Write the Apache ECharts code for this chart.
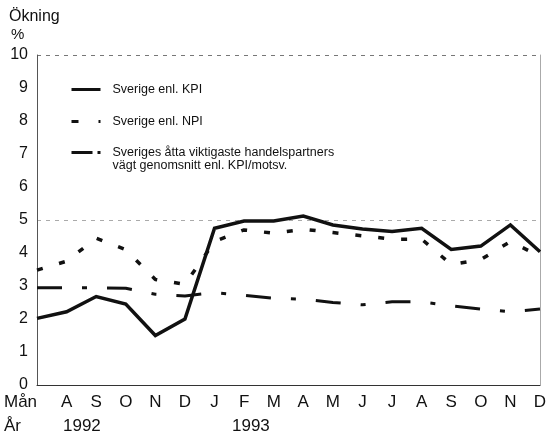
<!DOCTYPE html>
<html><head><meta charset="utf-8">
<script src="https://cdn.jsdelivr.net/npm/echarts@6/dist/echarts.min.js"></script>
<style>html,body{margin:0;padding:0;background:#fff}#c{width:548px;height:438px}</style>
</head><body><div id="c"></div>
<script>
// Months Jul 1992 .. Dec 1993 (first month unlabeled, at the y axis)
const months = ['', 'A', 'S', 'O', 'N', 'D', 'J', 'F', 'M', 'A', 'M', 'J', 'J', 'A', 'S', 'O', 'N', 'D'];
const kpi = [2.02, 2.22, 2.68, 2.45, 1.5, 2.0, 4.75, 4.97, 4.97, 5.12, 4.85, 4.73, 4.65, 4.75, 4.11, 4.21, 4.85, 4.04];
const npi = [3.48, 3.75, 4.45, 4.1, 3.2, 3.05, 4.35, 4.7, 4.6, 4.72, 4.62, 4.52, 4.42, 4.42, 3.65, 3.8, 4.35, 3.9];
const partners = [2.95, 2.95, 2.95, 2.93, 2.75, 2.7, 2.8, 2.72, 2.63, 2.6, 2.5, 2.43, 2.52, 2.52, 2.4, 2.3, 2.22, 2.3];
const yTickLabels = ['0', '1', '2', '3', '4', '5', '6', '7', '8', '9', '10'];
const names = ['Sverige enl. KPI', 'Sverige enl. NPI', 'Sveriges åtta viktigaste handelspartners\nvägt genomsnitt enl. KPI/motsv.'];
const yearLabels = ['1992', '1993'];

const FONT = '"Liberation Sans", Arial, Helvetica, sans-serif';
const INK = '#111';
const chart = echarts.init(document.getElementById('c'), null, {renderer: 'canvas'});

const legendText = {fontSize: 12.5, lineHeight: 13, color: INK, fontFamily: FONT, padding: [0, 0, 0, 7]};
chart.setOption({
  backgroundColor: '#fff',
  animation: false,
  grid: {left: 37, right: 8, top: 55, bottom: 53, containLabel: false, outerBoundsMode: 'none'},
  xAxis: {
    type: 'category', data: months, boundaryGap: false,
    axisLine: {show: true, lineStyle: {color: '#333', width: 1}},
    axisTick: {show: false},
    axisLabel: {interval: 0, fontSize: 17, color: INK, fontFamily: FONT, margin: 9},
    splitLine: {show: false}
  },
  yAxis: [{
    type: 'value', min: 0, max: 10, interval: 1,
    axisLine: {show: true, lineStyle: {color: '#555', width: 1}},
    axisTick: {show: false},
    axisLabel: {fontSize: 16, color: INK, fontFamily: FONT, margin: 9, padding: [8, 0, 0, 0],
      formatter: v => yTickLabels[Math.round(v)]},
    splitLine: {show: false}
  }, {
    type: 'value', min: 0, max: 10, interval: 5, position: 'right',
    axisLine: {show: true, lineStyle: {color: '#aaa', width: 1}},
    axisTick: {show: false}, axisLabel: {show: false},
    splitLine: {show: true, lineStyle: {color: ['#333', '#aaa', '#777'], width: 1, type: [4, 5]}}
  }],
  legend: [{
    data: [names[0], {name: names[1], lineStyle: {type: [7, 20, 3, 40]}}],
    orient: 'vertical', left: 70, top: 83, padding: 0, itemWidth: 29, itemHeight: 14, itemGap: 19,
    textStyle: legendText, lineStyle: {width: 3}, itemStyle: {opacity: 0}, selectedMode: false
  }, {
    data: [{name: names[2], lineStyle: {type: [21, 5, 3, 40]}}],
    formatter: n => '\n' + n,
    orient: 'vertical', left: 70, top: 133, padding: 0, itemWidth: 29, itemHeight: 14,
    textStyle: legendText, lineStyle: {width: 3}, itemStyle: {opacity: 0}, selectedMode: false
  }],
  graphic: [
    {type: 'text', left: 9, top: 9, style: {text: 'Ökning', fontSize: 16, fill: INK, fontFamily: FONT}},
    {type: 'text', left: 11, top: 27, style: {text: '%', fontSize: 15, fill: INK, fontFamily: FONT}},
    {type: 'text', left: 4, top: 394, style: {text: 'Mån', fontSize: 17, fill: INK, fontFamily: FONT}},
    {type: 'text', left: 4, top: 418, style: {text: 'År', fontSize: 17, fill: INK, fontFamily: FONT}},
    {type: 'text', left: 63, top: 418, style: {text: yearLabels[0], fontSize: 17, fill: INK, fontFamily: FONT}},
    {type: 'text', left: 232, top: 418, style: {text: yearLabels[1], fontSize: 17, fill: INK, fontFamily: FONT}}
  ],
  series: [
    {name: names[0], type: 'line', data: kpi, symbol: 'none', z: 4,
      lineStyle: {color: INK, width: 3.5, join: 'miter'}, itemStyle: {color: INK}},
    {name: names[1], type: 'line', data: npi, symbol: 'none', z: 3,
      lineStyle: {color: INK, width: 3.5, type: [6, 17]}, itemStyle: {color: INK}},
    {name: names[2], type: 'line', data: partners, symbol: 'none', z: 3,
      lineStyle: {color: INK, width: 3, type: [25, 20, 5, 20]}, itemStyle: {color: INK}}
  ]
});
</script></body></html>
